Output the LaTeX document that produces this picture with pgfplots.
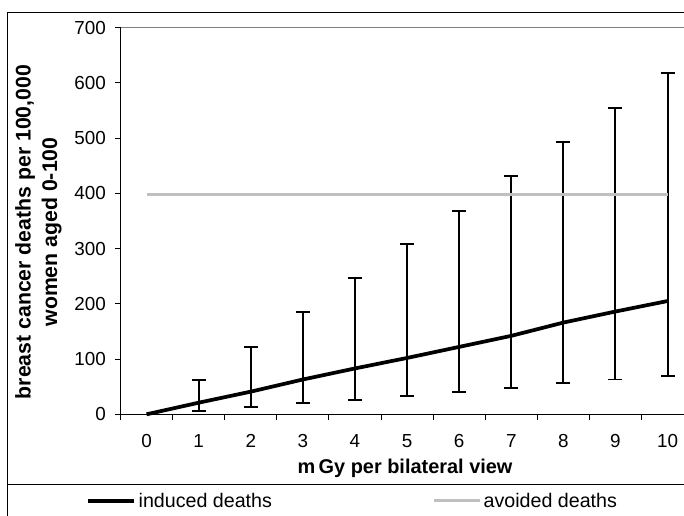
\documentclass[border=0pt]{standalone}
\usepackage{fontspec}
\setmainfont{Liberation Sans}
\usepackage{pgfplots}
\usepackage{pgfplotstable}
\pgfplotsset{compat=1.18}
\definecolor{avoidgray}{RGB}{192,192,192}
\definecolor{framegray}{RGB}{128,128,128}

\pgfplotstableread{
x y ep em
0 0 0 0
1 21 41 15
2 41 81 28
3 63 122 43
4 83 163 56.5
5 102 206 69
6 122 246 82
7 142 289 95
8 166 327 110
9 186 368 123
10 205 412 136
}\induced

\pgfplotstableread{
x y ep em
1 21 41 15
2 41 81 28
3 63 122 43
4 83 163 56.5
5 102 206 69
6 122 246 82
7 142 289 95
8 166 327 110
9 186 368 123
10 205 412 136
}\errs

\pgfplotstableread{
x y
0 398
1 398
2 398
3 398
4 398
5 398
6 398
7 398
8 398
9 398
10 398
}\avoided

\begin{document}
\begin{tikzpicture}
\useasboundingbox (0,0) rectangle (513bp,-387bp);
\clip (0,0) rectangle (513bp,-387bp);
\begin{scope}[x=0.75bp,y=-0.75bp]
\draw[line width=0.75bp] (7,12) rectangle (720,540);
\draw[line width=0.75bp] (7,484) -- (720,484);
\end{scope}
\begin{axis}[
  scale only axis,
  width=429.825bp, height=290.1bp,
  at={(90.375bp,-310.725bp)}, anchor=south west,
  xmin=-0.5, xmax=10.5, ymin=0, ymax=700,
  axis x line*=bottom, axis y line*=left,
  axis line style={black, line width=0.75bp, -},
  tick align=outside,
  major tick length=4.5bp,
  tick style={black, line width=0.75bp},
  xtick={-0.5,0.5,...,10.5},
  xticklabels={},
  extra x ticks={0,1,...,10},
  extra x tick labels={0,1,2,3,4,5,6,7,8,9,10},
  extra x tick style={major tick length=0pt, tick label style={yshift=-11.5bp}},
  ytick={0,100,...,700},
  yticklabel style={xshift=-3bp},
  tick label style={font=\fontsize{14.2}{17}\selectfont},
  /pgf/number format/assume math mode=true,
  xlabel={m\kern2.5bp Gy per bilateral view},
  xlabel style={at={(axis description cs:0.4965,-0.1387)}, anchor=center, font=\fontsize{15}{18}\selectfont\bfseries},
  ylabel={breast cancer deaths per 100,000\\women aged 0-100},
  ylabel style={at={(axis description cs:-0.1431,0.4713)}, anchor=center, align=center, font=\fontsize{16}{20}\selectfont\bfseries},
  legend columns=2,
  legend style={at={(axis description cs:-0.0602,-0.2241)}, anchor=west, draw=none, fill=none,
    inner sep=0pt, font=\fontsize{14.8}{17}\selectfont,
    /tikz/every even column/.append style={column sep=118bp}},
  legend image code/.code={\draw[#1] (0bp,0bp) -- (34.5bp,0bp);},
  clip=false,
]
\addplot[draw=none, mark=none, forget plot,
  error bars/.cd, y dir=both, y explicit,
  error bar style={draw=black, line width=1.45bp},
  error mark options={draw=black, rotate=90, line width=1.45bp, mark size=5.25bp}]
  table[x=x, y=y, y error plus=ep, y error minus=em] {\errs};
\addplot[black, line width=2.8bp, mark=none] table[x=x, y=y] {\induced};
\addlegendentry{induced deaths}
\addplot[avoidgray, line width=2.25bp, mark=none] table[x=x, y=y] {\avoided};
\addlegendentry{avoided deaths}
\draw[framegray, line width=1.1bp] (rel axis cs:0,1) -- (rel axis cs:1,1);
\end{axis}
\end{tikzpicture}
\end{document}
